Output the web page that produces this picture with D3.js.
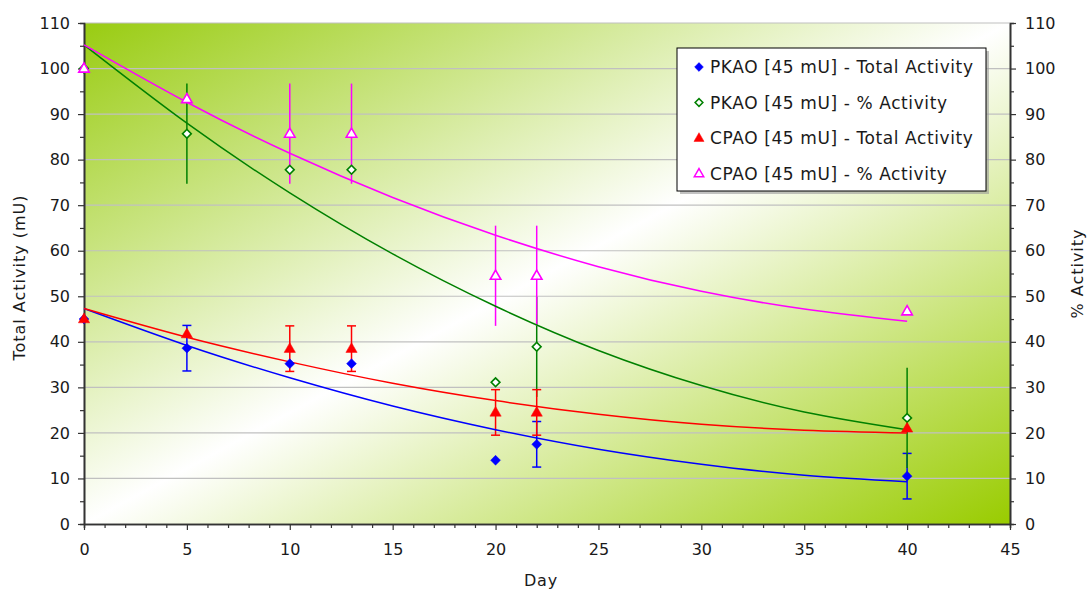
<!DOCTYPE html>
<html>
<head>
<meta charset="utf-8">
<script src="https://cdn.jsdelivr.net/npm/d3@7"></script>
<style>
  body { margin: 0; background: #fff; }
  svg text { font-family: "DejaVu Sans", Verdana, sans-serif; fill: #1a1a1a; }
</style>
</head>
<body>
<svg id="chart" width="1091" height="595"></svg>
<script>
// Data
const days = [0, 5, 10, 13, 20, 22, 40];

const pkaoTotal = [45, 38.6, 35.2, 35.2, 14, 17.5, 10.5];
const pkaoTotalErr = [0, 5, 0, 0, 0, 5, 5];

const pkaoPct = [100, 85.7, 77.8, 77.8, 31.1, 38.9, 23.3];
const pkaoPctErr = [0, 11, 0, 0, 0, 11, 11];

const cpaoTotal = [45, 41.7, 38.5, 38.5, 24.5, 24.5, 21];
const cpaoTotalErr = [0, 0, 5, 5, 5, 5, 0];

const cpaoPct = [100, 93.3, 85.7, 85.7, 54.5, 54.5, 46.7];
const cpaoPctErr = [0, 0, 11, 11, 11, 11, 0];

// trendline values read at these days
const trendDays = [0, 5, 10, 15, 20, 25, 30, 35, 40];
const pkaoTotalTrend = [47.3, 39.2, 32.1, 25.9, 20.7, 16.4, 13.1, 10.7, 9.3];
const pkaoPctTrend = [105.2, 88.0, 72.7, 59.3, 47.8, 38.1, 30.4, 24.6, 20.7];
const cpaoTotalTrend = [47.3, 41.0, 35.6, 30.9, 27.1, 24.1, 21.9, 20.6, 20.0];
const cpaoPctTrend = [105.2, 92.6, 81.4, 71.7, 63.4, 56.5, 51.1, 47.2, 44.5];

const xTicks = [0, 5, 10, 15, 20, 25, 30, 35, 40, 45];
const yTicks = [0, 10, 20, 30, 40, 50, 60, 70, 80, 90, 100, 110];

const seriesNames = [
  "PKAO [45 mU] - Total Activity",
  "PKAO [45 mU] - % Activity",
  "CPAO [45 mU] - Total Activity",
  "CPAO [45 mU] - % Activity"
];

const plot = { left: 84, right: 1010, top: 23, bottom: 524 };

const svg = d3.select("#chart");

const x = d3.scaleLinear().domain([0, 45]).range([plot.left, plot.right]);
const y = d3.scaleLinear().domain([0, 110]).range([plot.bottom, plot.top]);

// Background gradient (green corners, white diagonal band)
const defs = svg.append("defs");
const grad = defs.append("linearGradient")
  .attr("id", "bg")
  .attr("x1", 0).attr("y1", 0).attr("x2", 1).attr("y2", 1);
grad.append("stop").attr("offset", "0%").attr("stop-color", "#99cc11");
grad.append("stop").attr("offset", "50%").attr("stop-color", "#ffffff");
grad.append("stop").attr("offset", "100%").attr("stop-color", "#99cc00");

svg.append("rect")
  .attr("x", plot.left).attr("y", plot.top)
  .attr("width", plot.right - plot.left)
  .attr("height", plot.bottom - plot.top)
  .attr("fill", "url(#bg)");

// Gridlines
svg.append("g")
  .selectAll("line")
  .data(yTicks.filter(d => d > 0))
  .enter()
  .append("line")
  .attr("x1", plot.left).attr("x2", plot.right)
  .attr("y1", d => y(d)).attr("y2", d => y(d))
  .attr("stroke", "#c0c0c0")
  .attr("stroke-width", 1.2);

// Axes
const minorY = d3.range(5, 110, 10);
const minorX = d3.range(0, 46, 1).filter(d => d % 5 !== 0);

function styleAxis(g) {
  g.select(".domain").attr("stroke", "#333").attr("stroke-width", 1.6);
  g.selectAll(".tick line").attr("stroke", "#333").attr("stroke-width", 1.2);
  g.selectAll(".tick text").attr("font-size", 16).attr("fill", "#1a1a1a")
    .attr("font-family", '"DejaVu Sans", Verdana, sans-serif');
}

// minor ticks first, so the major axis sits on top
svg.append("g")
  .attr("transform", `translate(${plot.left},0)`)
  .call(d3.axisLeft(y).tickValues(minorY).tickSize(4).tickFormat(""))
  .call(styleAxis);
svg.append("g")
  .attr("transform", `translate(${plot.right},0)`)
  .call(d3.axisRight(y).tickValues(minorY).tickSize(4).tickFormat(""))
  .call(styleAxis);
svg.append("g")
  .attr("transform", `translate(0,${plot.bottom})`)
  .call(d3.axisBottom(x).tickValues(minorX).tickSize(4).tickFormat(""))
  .call(styleAxis);

svg.append("g")
  .attr("transform", `translate(${plot.left},0)`)
  .call(d3.axisLeft(y).tickValues(yTicks).tickSize(6).tickSizeOuter(0).tickPadding(8))
  .call(styleAxis);
svg.append("g")
  .attr("transform", `translate(${plot.right},0)`)
  .call(d3.axisRight(y).tickValues(yTicks).tickSize(6).tickSizeOuter(0).tickPadding(9))
  .call(styleAxis);
svg.append("g")
  .attr("transform", `translate(0,${plot.bottom})`)
  .call(d3.axisBottom(x).tickValues(xTicks).tickSize(6).tickSizeOuter(0).tickPadding(14))
  .call(styleAxis);

// Axis titles
svg.append("text")
  .attr("x", (plot.left + plot.right) / 2 - 6).attr("y", 586)
  .attr("text-anchor", "middle").attr("font-size", 16).attr("letter-spacing", 0.8)
  .text("Day");
svg.append("text")
  .attr("transform", `translate(25,${(plot.top + plot.bottom) / 2 + 4}) rotate(-90)`)
  .attr("text-anchor", "middle").attr("font-size", 16).attr("letter-spacing", 1)
  .text("Total Activity (mU)");
svg.append("text")
  .attr("transform", `translate(1083,${(plot.top + plot.bottom) / 2}) rotate(-90)`)
  .attr("text-anchor", "middle").attr("font-size", 16).attr("letter-spacing", 1)
  .text("% Activity");

// Series setup
const diamond = d3.symbol().type(d3.symbolSquare);
const triangle = d3.symbol().type(d3.symbolTriangle);

const series = [
  { vals: pkaoTotal, err: pkaoTotalErr, trend: pkaoTotalTrend, color: "#0000ff", kind: "diamond", filled: true, caps: true },
  { vals: pkaoPct, err: pkaoPctErr, trend: pkaoPctTrend, color: "#008000", kind: "diamond", filled: false, caps: false },
  { vals: cpaoTotal, err: cpaoTotalErr, trend: cpaoTotalTrend, color: "#ff0000", kind: "triangle", filled: true, caps: true },
  { vals: cpaoPct, err: cpaoPctErr, trend: cpaoPctTrend, color: "#ff00ff", kind: "triangle", filled: false, caps: false }
];

const trendLine = d3.line()
  .x((d, i) => x(trendDays[i]))
  .y(d => y(d))
  .curve(d3.curveNatural);

function markerPath(s, scale) {
  if (s.kind === "diamond") return diamond.size((s.filled ? 48 : 38) * scale)();
  return triangle.size((s.filled ? 55 : 48) * scale)();
}
function markerRotate(s) {
  return s.kind === "diamond" ? " rotate(45)" : " translate(0,0.5)";
}

// layers: error bars, then trendlines, then markers on top
const errLayer = svg.append("g");
const trendLayer = svg.append("g");
const markLayer = svg.append("g");

series.forEach(s => {
  // error bars
  const pts = days.map((d, i) => ({ day: d, v: s.vals[i], e: s.err[i] })).filter(p => p.e > 0);
  const g = errLayer.append("g");
  g.selectAll("line.err")
    .data(pts)
    .enter()
    .append("line")
    .attr("x1", p => x(p.day)).attr("x2", p => x(p.day))
    .attr("y1", p => y(p.v - p.e)).attr("y2", p => y(p.v + p.e))
    .attr("stroke", s.color).attr("stroke-width", 1.5);
  if (s.caps) {
    [-1, 1].forEach(sign => {
      g.selectAll(null)
        .data(pts)
        .enter()
        .append("line")
        .attr("x1", p => x(p.day) - 4.5).attr("x2", p => x(p.day) + 4.5)
        .attr("y1", p => y(p.v + sign * p.e)).attr("y2", p => y(p.v + sign * p.e))
        .attr("stroke", s.color).attr("stroke-width", 1.5);
    });
  }

  // trendline
  trendLayer.append("path")
    .attr("d", trendLine(s.trend))
    .attr("fill", "none")
    .attr("stroke", s.color)
    .attr("stroke-width", 1.5);

  // markers
  markLayer.append("g").selectAll("path")
    .data(days.map((d, i) => ({ day: d, v: s.vals[i] })))
    .enter()
    .append("path")
    .attr("d", markerPath(s, 1))
    .attr("transform", p => `translate(${x(p.day)},${y(p.v)})` + markerRotate(s))
    .attr("fill", s.filled ? s.color : "#fff")
    .attr("stroke", s.color)
    .attr("stroke-width", s.filled ? 0.5 : 1.6);
});

// Legend
const legend = svg.append("g").attr("transform", "translate(677,48)");
legend.append("rect")
  .attr("x", 3).attr("y", 3).attr("width", 309).attr("height", 143)
  .attr("fill", "#999").attr("opacity", 0.6);
legend.append("rect")
  .attr("width", 309).attr("height", 143)
  .attr("fill", "#fff").attr("stroke", "#000").attr("stroke-width", 1);

series.forEach((s, i) => {
  const row = legend.append("g").attr("transform", `translate(22,${19 + i * 35.5})`);
  row.append("path")
    .attr("d", markerPath(s, 0.8))
    .attr("transform", markerRotate(s).trim() || null)
    .attr("fill", s.filled ? s.color : "#fff")
    .attr("stroke", s.color)
    .attr("stroke-width", s.filled ? 0.5 : 1.5);
  row.append("text")
    .attr("x", 11).attr("y", 6)
    .attr("font-size", 17).attr("letter-spacing", 0.6)
    .text(seriesNames[i]);
});
</script>
</body>
</html>
